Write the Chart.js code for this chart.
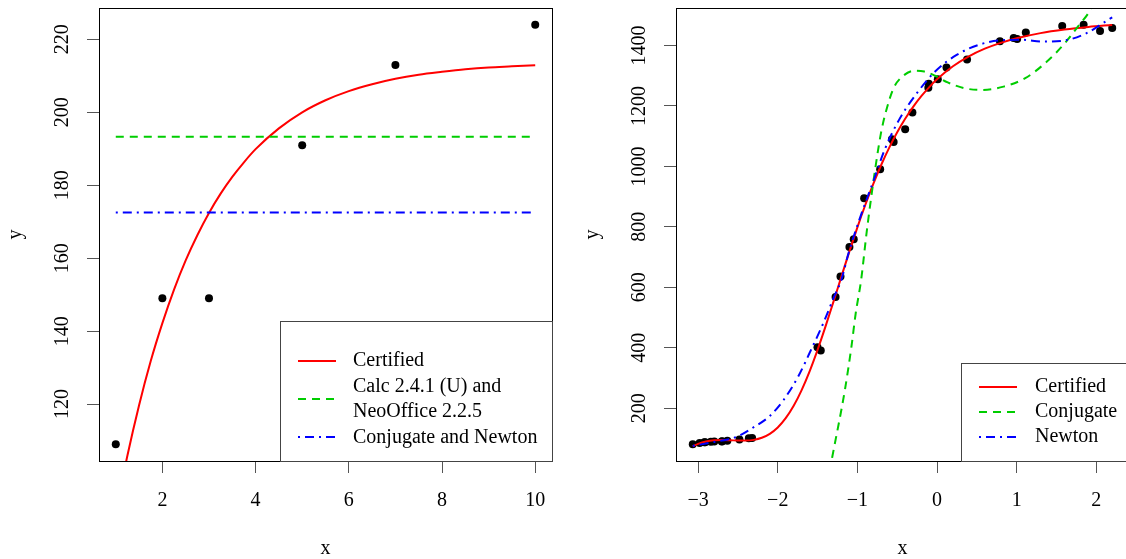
<!DOCTYPE html>
<html lang="en">
<head>
<meta charset="UTF-8">
<title>BoxBOD and Thurber fits</title>
<style>
  body { margin: 0; background: #fff; }
  #wrap { position: relative; width: 1126px; height: 559px; overflow: hidden; }
  .panel { position: absolute; top: 0; height: 559px; overflow: hidden; }
  #p1 { left: 0; width: 563px; }
  #p2 { left: 563px; width: 563px; }
</style>
<script src="https://cdn.jsdelivr.net/npm/chart.js"></script>
</head>
<body>
<div id="wrap">
  <div class="panel" id="p1"><canvas id="left" width="563" height="559"></canvas></div>
  <div class="panel" id="p2"><canvas id="right" width="580" height="559"></canvas></div>
</div>
<script>
  // ---- left panel: BoxBOD ----
  const boxX = [1, 2, 3, 5, 7, 10];
  const boxY = [109, 149, 149, 191, 213, 224];
  const certLX = [1, 1.25, 1.5, 1.75, 2, 2.25, 2.5, 2.75, 3, 3.25, 3.5, 3.75, 4, 4.5, 5, 5.5, 6, 6.5, 7, 7.5, 8, 8.5, 9, 9.5, 10];
  const certLY = [90.1, 105.9, 119.7, 131.8, 142.2, 151.4, 159.4, 166.3, 172.4, 177.7, 182.3, 186.3, 189.9, 195.6, 200.0, 203.3, 205.8, 207.7, 209.2, 210.3, 211.1, 211.8, 212.3, 212.6, 212.9];
  const calcX = [1, 10];
  const calcY = [193.3, 193.3];
  const conjNewtX = [1, 10];
  const conjNewtY = [172.5, 172.5];
  const leftXTicks = [2, 4, 6, 8, 10];
  const leftYTicks = [120, 140, 160, 180, 200, 220];
  const leftLabels = ['Certified', 'Calc 2.4.1 (U) and\nNeoOffice 2.2.5', 'Conjugate and Newton'];

  // ---- right panel: Thurber ----
  const thurX = [-3.067, -2.981, -2.921, -2.912, -2.840, -2.797, -2.702, -2.699, -2.633, -2.481, -2.363, -2.322,
    -1.501, -1.460, -1.274, -1.212, -1.100, -1.046, -0.915, -0.714, -0.566, -0.545, -0.400, -0.309, -0.109, -0.103,
    0.010, 0.119, 0.377, 0.790, 0.963, 1.006, 1.115, 1.572, 1.841, 2.047, 2.200];
  const thurY = [80.574, 84.248, 87.264, 87.195, 89.076, 89.608, 89.868, 90.101, 92.405, 95.854, 100.696, 101.060,
    401.672, 390.724, 567.534, 635.316, 733.054, 759.087, 894.206, 990.785, 1090.109, 1080.914, 1122.643, 1178.351, 1260.531, 1273.514,
    1288.339, 1327.543, 1353.863, 1414.509, 1425.208, 1421.384, 1442.962, 1464.350, 1468.705, 1447.894, 1457.628];
  const certRX = [-3.067, -3.0, -2.9, -2.8, -2.7, -2.6, -2.5, -2.4, -2.3, -2.2, -2.1, -2.0, -1.9, -1.8, -1.7, -1.6, -1.5, -1.4, -1.3, -1.2, -1.1,
    -1.0, -0.9, -0.8, -0.7, -0.6, -0.5, -0.4, -0.3, -0.2, -0.1, 0, 0.2, 0.4, 0.6, 0.8, 1.0, 1.3, 1.6, 1.9, 2.2];
  const certRY = [73.8, 81.7, 89.5, 93.4, 94.5, 93.8, 92.7, 92.5, 95.0, 101.9, 115.0, 136.1, 166.8, 207.8, 259.7, 321.8, 392.9, 470.6, 552.6, 636.1, 718.7,
    798.2, 873.1, 942.4, 1005.5, 1062.3, 1112.9, 1157.6, 1197.0, 1231.5, 1261.7, 1288.1, 1331.3, 1364.2, 1389.5, 1408.9, 1424.1, 1441.1, 1453.0, 1461.7, 1468.1];
  const conjX = [-1.35, -1.315, -1.157, -1.075, -1.021, -0.953, -0.885, -0.831, -0.772, -0.704, -0.636, -0.545, -0.432, -0.274, -0.160,
    -0.024, 0.134, 0.338, 0.564, 0.836, 1.108, 1.380, 1.606, 1.787, 1.923, 2.0];
  const conjY = [-10, 39, 260, 403, 514, 624, 779, 889, 999, 1110, 1187, 1259, 1298, 1317, 1314,
    1300, 1278, 1259, 1253, 1264, 1292, 1347, 1408, 1469, 1518, 1570];
  const newtX = [-3.067, -2.8, -2.515, -2.289, -2.108, -1.927, -1.745, -1.564, -1.428, -1.292, -1.202, -1.111, -0.976, -0.794,
    -0.658, -0.477, -0.251, -0.024, 0.247, 0.519, 0.791, 1.062, 1.334, 1.606, 1.878, 2.149, 2.2];
  const newtY = [75, 88, 105, 139, 172, 227, 304, 403, 481, 569, 624, 713, 823, 955,
    1055, 1154, 1243, 1314, 1369, 1402, 1417, 1419, 1413, 1417, 1441, 1485, 1493];
  const rightXTicks = [-3, -2, -1, 0, 1, 2];
  const rightYTicks = [200, 400, 600, 800, 1000, 1200, 1400];
  const rightLabels = ['Certified', 'Conjugate', 'Newton'];

  const RED = '#ff0000', GREEN = '#00cd00', BLUE = '#0000ff';
  const DASH = [8, 6], DOTDASH = [2, 5, 9, 5];
  const FONT = { family: '"Liberation Serif", "Times New Roman", serif', size: 20 };

  const pts = (xs, ys) => xs.map((x, i) => ({ x: x, y: ys[i] }));

  function curve(xs, ys, color, dash, order) {
    return {
      data: pts(xs, ys), showLine: true, borderColor: color, borderWidth: 2,
      borderDash: dash, pointRadius: 0, fill: false, order: order,
      cubicInterpolationMode: 'monotone'
    };
  }

  // draws the R-style box and the legend
  const boxPlugin = {
    id: 'rbox',
    afterDraw(chart, args, opts) {
      const { ctx, chartArea: a } = chart;
      ctx.save();
      ctx.strokeStyle = '#000';
      ctx.lineWidth = 1;
      ctx.strokeRect(Math.round(a.left) + 0.5, Math.round(a.top) + 0.5,
        Math.round(a.right - a.left), Math.round(a.bottom - a.top));
      const L = opts.legend;
      ctx.strokeStyle = '#444';
      ctx.strokeRect(L.x + 0.5, L.y + 0.5, L.w, L.h);
      ctx.font = FONT.size + 'px ' + FONT.family;
      ctx.fillStyle = '#000';
      ctx.textBaseline = 'middle';
      L.items.forEach(it => {
        ctx.strokeStyle = it.color;
        ctx.lineWidth = 2;
        ctx.setLineDash(it.dash);
        ctx.beginPath();
        ctx.moveTo(L.sx0, it.y);
        ctx.lineTo(L.sx1, it.y);
        ctx.stroke();
        ctx.setLineDash([]);
        it.label.split('\n').forEach((t, k) => ctx.fillText(t, L.tx, it.ty[k]));
      });
      ctx.restore();
    }
  };

  function axis(min, max, ticks, size, title, extra) {
    const horiz = extra.horiz;
    return {
      type: 'linear', min: min, max: max,
      afterBuildTicks: s => { s.ticks = ticks.map(v => ({ value: v })); },
      afterFit: s => {
        if (horiz) s.height = size; else s.width = size;
        s.paddingTop = 0; s.paddingBottom = 0; s.paddingLeft = 0; s.paddingRight = 0;
      },
      grid: { drawOnChartArea: false, tickLength: 12, color: '#555', lineWidth: 1 },
      border: { display: false },
      ticks: {
        autoSkip: false, color: '#000', font: FONT, padding: extra.pad,
        minRotation: horiz ? 0 : 90, maxRotation: horiz ? 0 : 90,
        crossAlign: horiz ? 'near' : 'center',
        callback: v => String(v).replace('-', '\u2212')
      },
      title: { display: true, text: title, color: '#000', font: FONT, padding: extra.tpad }
    };
  }

  function makePanel(id, datasets, xs, ys, legend, yWidth, yPad, yTitlePad, rightPad) {
    return new Chart(document.getElementById(id), {
      type: 'scatter',
      data: { datasets: datasets },
      options: {
        responsive: false, animation: false, events: [],
        layout: { padding: { top: 8, right: rightPad, left: 0, bottom: 0 } },
        elements: { line: { capBezierPoints: false } },
        scales: {
          x: axis(xs.min, xs.max, xs.ticks, 98, 'x', { horiz: true, pad: 16, tpad: { top: 0, bottom: -2 } }),
          y: axis(ys.min, ys.max, ys.ticks, yWidth, 'y', { horiz: false, pad: yPad, tpad: { top: yTitlePad, bottom: 0 } })
        },
        plugins: { legend: { display: false }, tooltip: { enabled: false }, rbox: { legend: legend } }
      },
      plugins: [boxPlugin]
    });
  }

  makePanel('left', [
    { data: pts(boxX, boxY), pointRadius: 4, backgroundColor: '#000', borderWidth: 0, order: 4 },
    curve(certLX, certLY, RED, [], 3),
    curve(calcX, calcY, GREEN, DASH, 2),
    curve(conjNewtX, conjNewtY, BLUE, DOTDASH, 1)
  ], { min: 0.64, max: 10.36, ticks: leftXTicks }, { min: 104.4, max: 228.6, ticks: leftYTicks }, {
    x: 280, y: 321, w: 272, h: 140, sx0: 298, sx1: 336, tx: 353,
    items: [
      { label: leftLabels[0], color: RED, dash: [], y: 361, ty: [361] },
      { label: leftLabels[1], color: GREEN, dash: DASH, y: 399, ty: [387, 412] },
      { label: leftLabels[2], color: BLUE, dash: DOTDASH, y: 437, ty: [438] }
    ]
  }, 99, 9, 4, 11);

  makePanel('right', [
    { data: pts(thurX, thurY), pointRadius: 4, backgroundColor: '#000', borderWidth: 0, order: 4 },
    curve(certRX, certRY, RED, [], 3),
    curve(conjX, conjY, GREEN, DASH, 2),
    curve(newtX, newtY, BLUE, DOTDASH, 1)
  ], { min: -3.2777, max: 2.4107, ticks: rightXTicks }, { min: 25.05, max: 1524.2, ticks: rightYTicks }, {
    x: 398, y: 363, w: 200, h: 98, sx0: 416, sx1: 454, tx: 472,
    items: [
      { label: rightLabels[0], color: RED, dash: [], y: 387, ty: [387] },
      { label: rightLabels[1], color: GREEN, dash: DASH, y: 412, ty: [412] },
      { label: rightLabels[2], color: BLUE, dash: DOTDASH, y: 437, ty: [437] }
    ]
  }, 113, 4, 18, 14);
</script>
</body>
</html>
